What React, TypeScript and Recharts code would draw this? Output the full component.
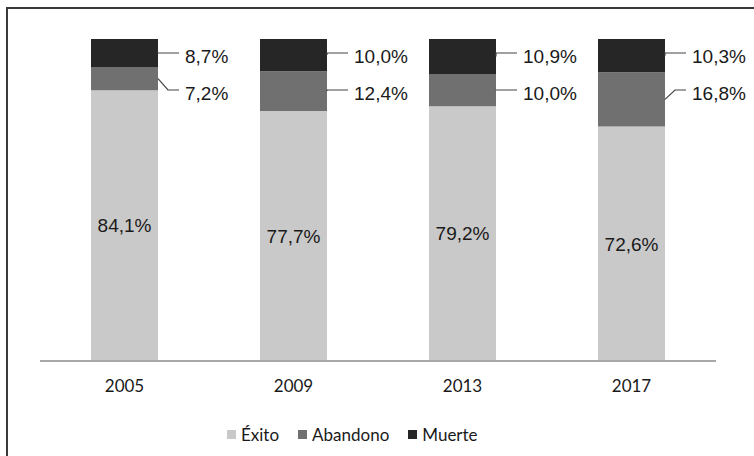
import { Bar, BarChart, LabelList, Legend, XAxis, YAxis } from 'recharts';

const years = ['2005', '2009', '2013', '2017'];
const exito = [84.1, 77.7, 79.2, 72.6];
const abandono = [7.2, 12.4, 10.0, 16.8];
const muerte = [8.7, 10.0, 10.9, 10.3];

const seriesNames = { exito: 'Éxito', abandono: 'Abandono', muerte: 'Muerte' };
const colors = { exito: '#c9c9c9', abandono: '#707070', muerte: '#262626' };

const data = years.map((year, i) => ({
  year,
  exito: exito[i],
  abandono: abandono[i],
  muerte: muerte[i],
}));

const PLOT_TOP = 39;
const LABEL_FONT = '"Liberation Sans", Arial, sans-serif';
const AXIS_FONT = 'Lato, "Open Sans", sans-serif';

const fmt = (v: number) => `${v.toFixed(1).replace('.', ',')}%`;

// leader-line labels to the right of the bar, like the Excel original
function SideLabel(props: any, values: number[], labelY: number) {
  const { x, y, width, height, index } = props;
  const x0 = x + width;
  const y0 = y + height / 2;
  const lineY = labelY - 3;
  const bend = Math.abs(lineY - y0) > 4 ? x0 + 10 : x0;
  return (
    <g>
      <polyline
        points={`${x0},${y0} ${bend},${lineY} ${x0 + 21},${lineY}`}
        fill="none"
        stroke="#444"
        strokeWidth={1.2}
      />
      <text
        x={x0 + 27}
        y={labelY}
        dominantBaseline="central"
        fontFamily={LABEL_FONT}
        fontSize={19}
        fill="#1a1a1a"
      >
        {fmt(values[index])}
      </text>
    </g>
  );
}

function LegendContent() {
  const keys = ['exito', 'abandono', 'muerte'] as const;
  return (
    <div
      style={{
        display: 'flex',
        alignItems: 'center',
        paddingLeft: 187,
        paddingTop: 33,
        fontFamily: AXIS_FONT,
        fontSize: 17,
        color: '#1a1a1a',
      }}
    >
      {keys.map((k) => (
        <span key={k} style={{ display: 'flex', alignItems: 'center', marginRight: 19 }}>
          <span style={{ width: 9, height: 9, background: colors[k], marginRight: 5, display: 'inline-block' }} />
          {seriesNames[k]}
        </span>
      ))}
    </div>
  );
}

export default function App() {
  return (
    <div style={{ position: 'absolute', left: 0, top: 0, width: 754, height: 456, background: '#fff' }}>
      <div style={{ position: 'absolute', left: 6, top: 7, right: 0, height: 2, background: '#3a3a3a' }} />
      <div style={{ position: 'absolute', left: 6, top: 7, bottom: 0, width: 2, background: '#3a3a3a' }} />
      <BarChart
        width={754}
        height={456}
        data={data}
        stackOffset="expand"
        margin={{ top: PLOT_TOP, right: 38, left: 40, bottom: 0 }}
        barSize={67}
      >
        <XAxis
          dataKey="year"
          height={30}
          tickLine={false}
          tickSize={0}
          tickMargin={19}
          axisLine={{ stroke: '#a8a8a8', strokeWidth: 2 }}
          tick={{ fontFamily: AXIS_FONT, fontSize: 17, fill: '#1a1a1a' }}
        />
        <YAxis hide domain={[0, 1]} />
        <Legend
          verticalAlign="bottom"
          wrapperStyle={{ height: 65 }}
          content={() => <LegendContent />}
        />
        <Bar dataKey="exito" stackId="a" fill={colors.exito} isAnimationActive={false}>
          <LabelList
            dataKey="exito"
            position="center"
            formatter={(v: any) => fmt(Number(v))}
            style={{ fontFamily: LABEL_FONT, fontSize: 19, fill: '#1a1a1a' }}
          />
        </Bar>
        <Bar dataKey="abandono" stackId="a" fill={colors.abandono} isAnimationActive={false}>
          <LabelList dataKey="abandono" content={(p: any) => SideLabel(p, abandono, PLOT_TOP + 54)} />
        </Bar>
        <Bar dataKey="muerte" stackId="a" fill={colors.muerte} isAnimationActive={false}>
          <LabelList dataKey="muerte" content={(p: any) => SideLabel(p, muerte, p.y + 17)} />
        </Bar>
      </BarChart>
    </div>
  );
}
